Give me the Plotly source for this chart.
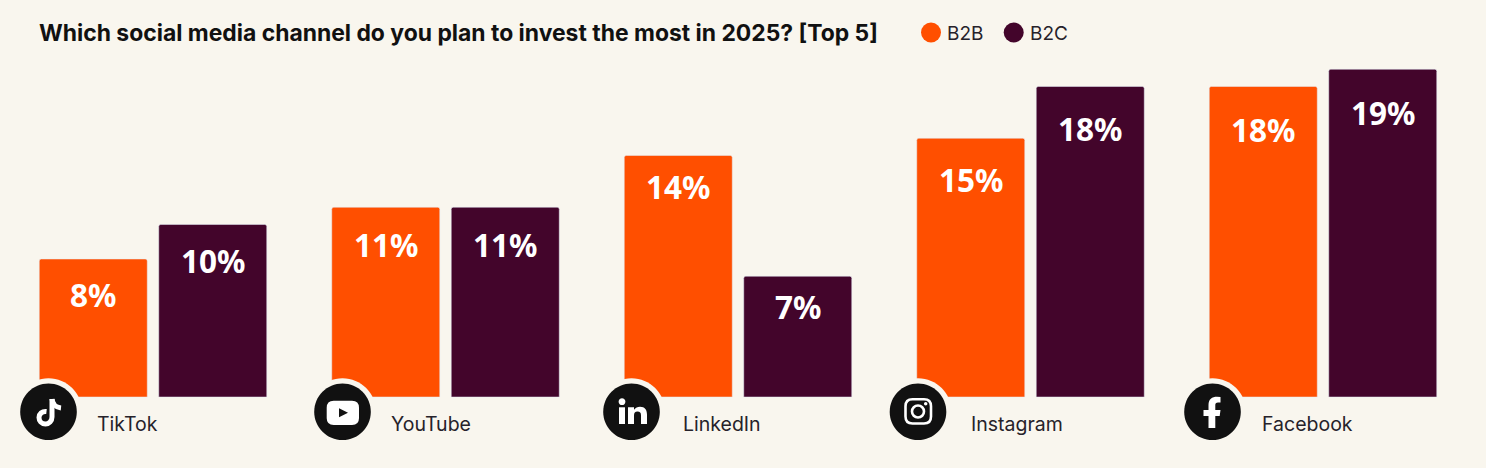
import plotly.graph_objects as go

categories = ["TikTok", "YouTube", "LinkedIn", "Instagram", "Facebook"]
b2b_values = [8, 11, 14, 15, 18]
b2c_values = [10, 11, 7, 18, 19]
title_text = "Which social media channel do you plan to invest the most in 2025? [Top 5]"

BG = "#F9F6EE"
ORANGE = "#FF4F00"
PLUM = "#43052B"
INK = "#111111"
TEXT = "#26222A"
WIDTH, HEIGHT = 1486, 468
LABEL_FONT = "Noto Sans"
BODY_FONT = "Inter"

# layout in page pixels: centre of the icon and of the name under each group
icon_centres = [48.5, 342.5, 631.5, 918, 1212.5]
name_centres = [127.5, 431, 721.5, 1016.5, 1307.5]
ICON_Y = 411.7
# the value labels do not sit at the same depth in every group
label_drops = [35.5, 37, 30.5, 41.5, 43]

# how the bar axes sit on the page
FIRST_GROUP_X = 153
GROUP_PITCH = 292.5
BASELINE_Y = 397
PX_PER_PCT = 17.25


def circle_path(cx, cy, r):
    k = 0.5523 * r
    return (
        f"M{cx - r},{cy} C{cx - r},{cy - k} {cx - k},{cy - r} {cx},{cy - r} "
        f"C{cx + k},{cy - r} {cx + r},{cy - k} {cx + r},{cy} "
        f"C{cx + r},{cy + k} {cx + k},{cy + r} {cx},{cy + r} "
        f"C{cx - k},{cy + r} {cx - r},{cy + k} {cx - r},{cy} Z"
    )


def rounded_rect_path(x0, y0, x1, y1, r):
    return (
        f"M{x0 + r},{y0} L{x1 - r},{y0} Q{x1},{y0} {x1},{y0 + r} "
        f"L{x1},{y1 - r} Q{x1},{y1} {x1 - r},{y1} "
        f"L{x0 + r},{y1} Q{x0},{y1} {x0},{y1 - r} "
        f"L{x0},{y0 + r} Q{x0},{y0} {x0 + r},{y0} Z"
    )


def page_shape(path, fill=None, line=None, width=0):
    return dict(
        type="path", path=path, xref="x2", yref="y2", layer="above",
        fillcolor=fill if fill else "rgba(0,0,0,0)",
        line=dict(color=line if line else "rgba(0,0,0,0)", width=width),
    )


def page_text(x, y, text, size, color=TEXT, family=BODY_FONT, weight=400, anchor="center"):
    return dict(
        x=x, y=y, xref="x2", yref="y2", text=text, showarrow=False,
        xanchor=anchor, yanchor="middle",
        font=dict(family=family, size=size, color=color, weight=weight),
    )


fig = go.Figure()
fig.add_trace(go.Bar(x=categories, y=b2b_values, name="B2B", marker_color=ORANGE, showlegend=False))
fig.add_trace(go.Bar(x=categories, y=b2c_values, name="B2C", marker_color=PLUM, showlegend=False))

# legend dots live on the page-pixel axes
fig.add_trace(go.Scatter(
    x=[931, 1013.7], y=[32.5, 32.5], xaxis="x2", yaxis="y2", mode="markers",
    marker=dict(size=20, color=[ORANGE, PLUM]), showlegend=False, hoverinfo="skip",
))

shapes = []
for cx in icon_centres:
    shapes.append(page_shape(circle_path(cx, ICON_Y, 33.5), fill=BG))
    shapes.append(page_shape(circle_path(cx, ICON_Y, 28.3), fill=INK))

# tiktok
shapes.append(page_shape("M52,399 L52,417 C52,421 49,424 45.5,424 C41.5,424 39,421 39,417.5 C39,414 42,411 46.5,411.5",
                         line="white", width=5))
shapes.append(page_shape("M52,399 C52.5,404 56,407.5 61,408", line="white", width=5))
# youtube
shapes.append(page_shape(rounded_rect_path(326.7, 400.7, 359, 425, 7), fill="white"))
shapes.append(page_shape("M339,408.3 L348,412.8 L339,417.3 Z", fill=INK))
# linkedin
shapes.append(page_shape(circle_path(622, 401.7, 3.4), fill="white"))
shapes.append(page_shape("M619,407.3 L625,407.3 L625,424 L619,424 Z", fill="white"))
shapes.append(page_shape(
    "M628,407.3 L634,407.3 L634,409.8 C635.5,407.8 637.5,406.8 640,406.8 C645,406.8 647,409.8 647,414.8 "
    "L647,424 L641,424 L641,415.5 C641,412.5 640,411.5 637.5,411.5 C635,411.5 634,413 634,415.5 "
    "L634,424 L628,424 Z", fill="white"))
# instagram
shapes.append(page_shape(rounded_rect_path(905.5, 399.3, 931, 423.5, 7), line="white", width=2.6))
shapes.append(page_shape(circle_path(918, 411.5, 6), line="white", width=2.6))
shapes.append(page_shape(circle_path(925.7, 403.7, 1.7), fill="white"))
# facebook
shapes.append(page_shape(
    "M1208.5,428 L1208.5,416 L1203.5,416 L1203.5,410 L1208.5,410 L1208.5,405 C1208.5,399 1212,396.7 1217,396.7 "
    "L1220.5,397 L1220.5,402.5 L1218,402.5 C1216,402.5 1215.3,403.5 1215.3,405 L1215.3,410 L1220.5,410 "
    "L1219.7,416 L1215.3,416 L1215.3,428 Z", fill="white"))

annotations = [
    page_text(37, 33, title_text, 22.9, color=INK, weight=700, anchor="left"),
    page_text(945, 33.5, "B2B", 19, anchor="left"),
    page_text(1027.5, 33.5, "B2C", 19, anchor="left"),
]
for name, x in zip(categories, name_centres):
    annotations.append(page_text(x, 424, name, 19.5))

# value labels sit under the top of each bar
for values, shift in ((b2b_values, -59.75), (b2c_values, 59.75)):
    for cat, val, drop in zip(categories, values, label_drops):
        annotations.append(dict(
            x=cat, y=val, xref="x", yref="y", xshift=shift, yshift=-drop,
            text=f"{val}%", showarrow=False, xanchor="center", yanchor="middle",
            font=dict(family=LABEL_FONT, size=31.5, color="white", weight=700),
        ))

fig.update_layout(
    width=WIDTH,
    height=HEIGHT,
    autosize=False,
    paper_bgcolor=BG,
    plot_bgcolor=BG,
    margin=dict(l=0, r=0, t=0, b=0),
    barmode="group",
    bargap=0.183,
    bargroupgap=0.096,
    barcornerradius=2,
    showlegend=False,
    shapes=shapes,
    annotations=annotations,
    xaxis=dict(
        domain=[0, 1], visible=False, type="category",
        categoryorder="array", categoryarray=categories,
        range=[-FIRST_GROUP_X / GROUP_PITCH, (WIDTH - FIRST_GROUP_X) / GROUP_PITCH],
    ),
    yaxis=dict(
        domain=[0, 1], visible=False,
        range=[(BASELINE_Y - HEIGHT) / PX_PER_PCT, BASELINE_Y / PX_PER_PCT],
    ),
    xaxis2=dict(range=[0, WIDTH], visible=False, overlaying="x", anchor="y2"),
    yaxis2=dict(range=[HEIGHT, 0], visible=False, overlaying="y", anchor="x2"),
)

# page body has a default margin that would push the chart off the edges
fig.write_html(
    "out.html",
    config={"displayModeBar": False},
    post_script="document.body.style.margin='0'; document.body.style.background='" + BG + "';",
)
